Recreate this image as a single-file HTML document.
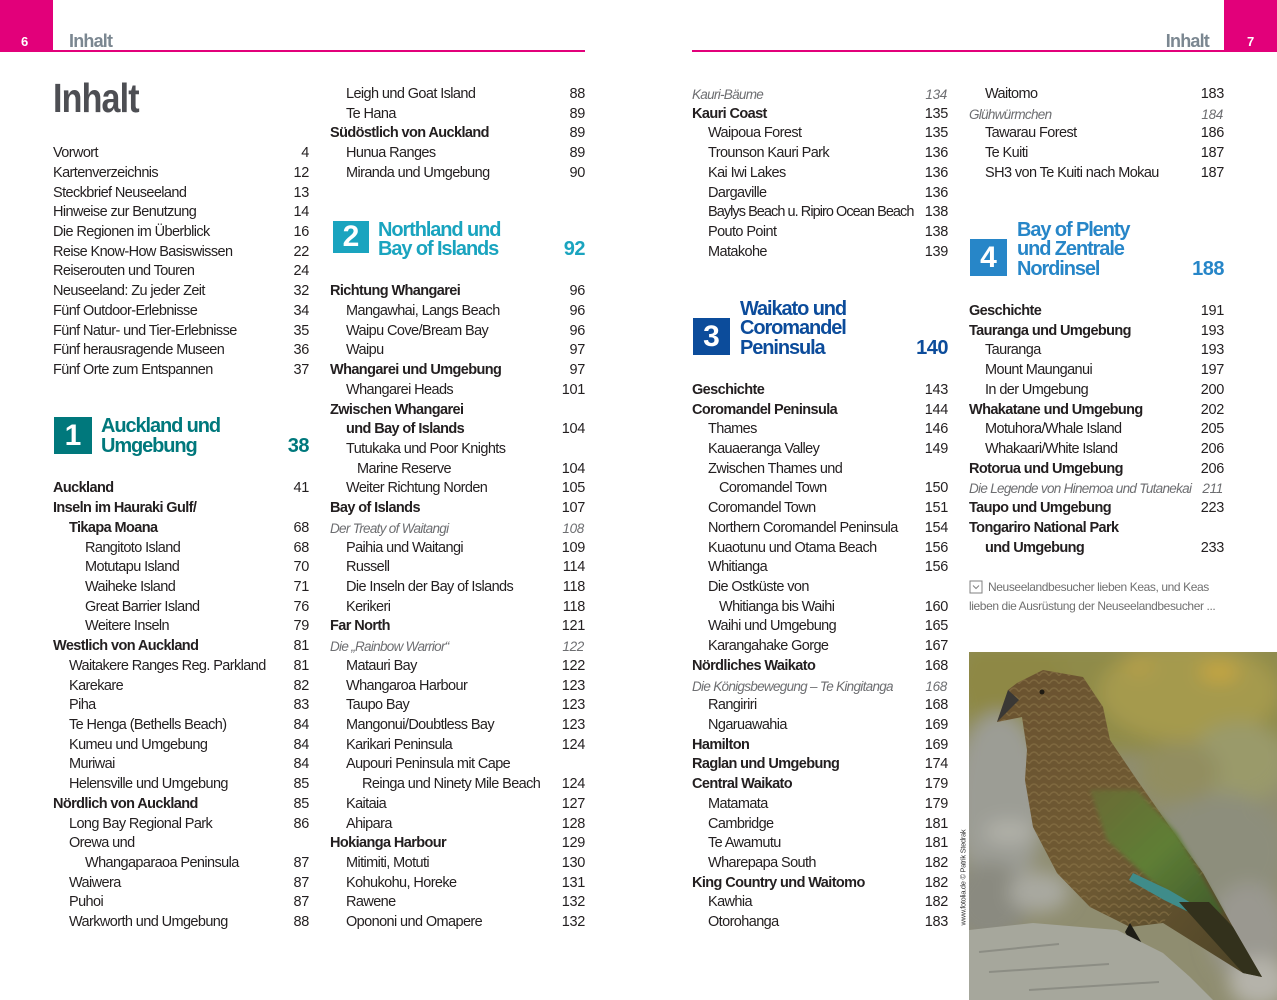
<!DOCTYPE html>
<html><head><meta charset="utf-8">
<style>
html,body{margin:0;padding:0;}
body{width:1277px;height:1000px;overflow:hidden;background:#fff;position:relative;font-family:"Liberation Sans",sans-serif;color:#231f20;}
.abs{position:absolute;}
.pink{position:absolute;background:#e2007a;}
.pn{position:absolute;color:#fff;font-weight:bold;font-size:13px;line-height:13px;}
.hd{position:absolute;color:#7b8791;font-weight:bold;font-size:18px;letter-spacing:-0.8px;line-height:18px;}
.col{position:absolute;top:85px;}
.r{height:19.72px;line-height:19.72px;position:relative;white-space:nowrap;font-size:14.5px;letter-spacing:-0.6px;}
.r .n{position:absolute;right:0;top:0;font-weight:normal;letter-spacing:-0.3px;}
.b{font-weight:bold;}
.it{font-style:italic;color:#6d6e71;font-size:13.5px;letter-spacing:-0.7px;}
.it .n{font-style:italic;right:1px;}
.i16{padding-left:16px;}
.i27{padding-left:27px;}
.i32{padding-left:32px;}
.box{position:absolute;color:#fff;font-weight:bold;font-size:30px;line-height:30px;display:flex;align-items:center;justify-content:center;}
.bt{position:absolute;font-weight:bold;font-size:20px;letter-spacing:-1.1px;line-height:19.72px;white-space:nowrap;}
.bn{position:absolute;font-weight:bold;font-size:20px;letter-spacing:-0.5px;line-height:19.72px;text-align:right;}
.cap{position:absolute;left:969px;color:#707070;font-size:12px;letter-spacing:-0.4px;line-height:19.72px;white-space:nowrap;}
</style></head><body>

<!-- headers -->
<div class="pink" style="left:0;top:0;width:53px;height:52px;"></div>
<div class="pink" style="left:1224px;top:0;width:53px;height:52px;"></div>
<div class="pink" style="left:53px;top:50px;width:532px;height:2px;"></div>
<div class="pink" style="left:692px;top:50px;width:532px;height:2px;"></div>
<div class="pn" style="left:21px;top:35px;">6</div>
<div class="pn" style="left:1247px;top:35px;">7</div>
<div class="hd" style="left:69px;top:32px;">Inhalt</div>
<div class="hd" style="left:1160px;top:32px;width:49px;text-align:right;">Inhalt</div>

<div class="abs" style="left:53px;top:78px;font-size:41px;line-height:41px;font-weight:bold;color:#4d4e53;letter-spacing:-1px;transform:scaleX(0.83);transform-origin:0 0;">Inhalt</div>

<!-- Column 1 -->
<div class="col" style="left:53px;width:256px;">
<div class="r"></div><div class="r"></div><div class="r"></div>
<div class="r">Vorwort<span class="n">4</span></div>
<div class="r">Kartenverzeichnis<span class="n">12</span></div>
<div class="r">Steckbrief Neuseeland<span class="n">13</span></div>
<div class="r">Hinweise zur Benutzung<span class="n">14</span></div>
<div class="r">Die Regionen im Überblick<span class="n">16</span></div>
<div class="r">Reise Know-How Basiswissen<span class="n">22</span></div>
<div class="r">Reiserouten und Touren<span class="n">24</span></div>
<div class="r">Neuseeland: Zu jeder Zeit<span class="n">32</span></div>
<div class="r">Fünf Outdoor-Erlebnisse<span class="n">34</span></div>
<div class="r">Fünf Natur- und Tier-Erlebnisse<span class="n">35</span></div>
<div class="r">Fünf herausragende Museen<span class="n">36</span></div>
<div class="r">Fünf Orte zum Entspannen<span class="n">37</span></div>
<div class="r"></div><div class="r"></div><div class="r"></div><div class="r"></div><div class="r"></div>
<div class="r b">Auckland<span class="n">41</span></div>
<div class="r b">Inseln im Hauraki Gulf/</div>
<div class="r b i16">Tikapa Moana<span class="n">68</span></div>
<div class="r i32">Rangitoto Island<span class="n">68</span></div>
<div class="r i32">Motutapu Island<span class="n">70</span></div>
<div class="r i32">Waiheke Island<span class="n">71</span></div>
<div class="r i32">Great Barrier Island<span class="n">76</span></div>
<div class="r i32">Weitere Inseln<span class="n">79</span></div>
<div class="r b">Westlich von Auckland<span class="n">81</span></div>
<div class="r i16">Waitakere Ranges Reg. Parkland<span class="n">81</span></div>
<div class="r i16">Karekare<span class="n">82</span></div>
<div class="r i16">Piha<span class="n">83</span></div>
<div class="r i16">Te Henga (Bethells Beach)<span class="n">84</span></div>
<div class="r i16">Kumeu und Umgebung<span class="n">84</span></div>
<div class="r i16">Muriwai<span class="n">84</span></div>
<div class="r i16">Helensville und Umgebung<span class="n">85</span></div>
<div class="r b">Nördlich von Auckland<span class="n">85</span></div>
<div class="r i16">Long Bay Regional Park<span class="n">86</span></div>
<div class="r i16">Orewa und</div>
<div class="r i32">Whangaparaoa Peninsula<span class="n">87</span></div>
<div class="r i16">Waiwera<span class="n">87</span></div>
<div class="r i16">Puhoi<span class="n">87</span></div>
<div class="r i16">Warkworth und Umgebung<span class="n">88</span></div>
</div>

<!-- Box 1 -->
<div class="box" style="left:54px;top:417px;width:38px;height:37px;background:#00787c;">1</div>
<div class="bt" style="left:101px;top:417.4px;color:#00787c;">Auckland und<br>Umgebung</div>
<div class="bn" style="left:240px;top:437.1px;width:69px;color:#00787c;">38</div>

<!-- Column 2 -->
<div class="col" style="left:330px;width:255px;">
<div class="r i16">Leigh und Goat Island<span class="n">88</span></div>
<div class="r i16">Te Hana<span class="n">89</span></div>
<div class="r b">Südöstlich von Auckland<span class="n">89</span></div>
<div class="r i16">Hunua Ranges<span class="n">89</span></div>
<div class="r i16">Miranda und Umgebung<span class="n">90</span></div>
<div class="r"></div><div class="r"></div><div class="r"></div><div class="r"></div><div class="r"></div>
<div class="r b">Richtung Whangarei<span class="n">96</span></div>
<div class="r i16">Mangawhai, Langs Beach<span class="n">96</span></div>
<div class="r i16">Waipu Cove/Bream Bay<span class="n">96</span></div>
<div class="r i16">Waipu<span class="n">97</span></div>
<div class="r b">Whangarei und Umgebung<span class="n">97</span></div>
<div class="r i16">Whangarei Heads<span class="n">101</span></div>
<div class="r b">Zwischen Whangarei</div>
<div class="r b i16">und Bay of Islands<span class="n">104</span></div>
<div class="r i16">Tutukaka und Poor Knights</div>
<div class="r i27">Marine Reserve<span class="n">104</span></div>
<div class="r i16">Weiter Richtung Norden<span class="n">105</span></div>
<div class="r b">Bay of Islands<span class="n">107</span></div>
<div class="r it">Der Treaty of Waitangi<span class="n">108</span></div>
<div class="r i16">Paihia und Waitangi<span class="n">109</span></div>
<div class="r i16">Russell<span class="n">114</span></div>
<div class="r i16">Die Inseln der Bay of Islands<span class="n">118</span></div>
<div class="r i16">Kerikeri<span class="n">118</span></div>
<div class="r b">Far North<span class="n">121</span></div>
<div class="r it">Die „Rainbow Warrior“<span class="n">122</span></div>
<div class="r i16">Matauri Bay<span class="n">122</span></div>
<div class="r i16">Whangaroa Harbour<span class="n">123</span></div>
<div class="r i16">Taupo Bay<span class="n">123</span></div>
<div class="r i16">Mangonui/Doubtless Bay<span class="n">123</span></div>
<div class="r i16">Karikari Peninsula<span class="n">124</span></div>
<div class="r i16">Aupouri Peninsula mit Cape</div>
<div class="r i32">Reinga und Ninety Mile Beach<span class="n">124</span></div>
<div class="r i16">Kaitaia<span class="n">127</span></div>
<div class="r i16">Ahipara<span class="n">128</span></div>
<div class="r b">Hokianga Harbour<span class="n">129</span></div>
<div class="r i16">Mitimiti, Motuti<span class="n">130</span></div>
<div class="r i16">Kohukohu, Horeke<span class="n">131</span></div>
<div class="r i16">Rawene<span class="n">132</span></div>
<div class="r i16">Opononi und Omapere<span class="n">132</span></div>
</div>

<!-- Box 2 -->
<div class="box" style="left:333px;top:221px;width:36px;height:32px;background:#1aa4bf;">2</div>
<div class="bt" style="left:378px;top:220.7px;color:#1aa4bf;">Northland und<br>Bay of Islands</div>
<div class="bn" style="left:520px;top:240.4px;width:65px;color:#1aa4bf;">92</div>

<!-- Column 3 -->
<div class="col" style="left:692px;width:256px;">
<div class="r it">Kauri-Bäume<span class="n">134</span></div>
<div class="r b">Kauri Coast<span class="n">135</span></div>
<div class="r i16">Waipoua Forest<span class="n">135</span></div>
<div class="r i16">Trounson Kauri Park<span class="n">136</span></div>
<div class="r i16">Kai Iwi Lakes<span class="n">136</span></div>
<div class="r i16">Dargaville<span class="n">136</span></div>
<div class="r i16" style="letter-spacing:-0.95px;">Baylys Beach u. Ripiro Ocean Beach<span class="n">138</span></div>
<div class="r i16">Pouto Point<span class="n">138</span></div>
<div class="r i16">Matakohe<span class="n">139</span></div>
<div class="r"></div><div class="r"></div><div class="r"></div><div class="r"></div><div class="r"></div><div class="r"></div>
<div class="r b">Geschichte<span class="n">143</span></div>
<div class="r b">Coromandel Peninsula<span class="n">144</span></div>
<div class="r i16">Thames<span class="n">146</span></div>
<div class="r i16">Kauaeranga Valley<span class="n">149</span></div>
<div class="r i16">Zwischen Thames und</div>
<div class="r i27">Coromandel Town<span class="n">150</span></div>
<div class="r i16">Coromandel Town<span class="n">151</span></div>
<div class="r i16">Northern Coromandel Peninsula<span class="n">154</span></div>
<div class="r i16">Kuaotunu und Otama Beach<span class="n">156</span></div>
<div class="r i16">Whitianga<span class="n">156</span></div>
<div class="r i16">Die Ostküste von</div>
<div class="r i27">Whitianga bis Waihi<span class="n">160</span></div>
<div class="r i16">Waihi und Umgebung<span class="n">165</span></div>
<div class="r i16">Karangahake Gorge<span class="n">167</span></div>
<div class="r b">Nördliches Waikato<span class="n">168</span></div>
<div class="r it">Die Königsbewegung – Te Kingitanga<span class="n">168</span></div>
<div class="r i16">Rangiriri<span class="n">168</span></div>
<div class="r i16">Ngaruawahia<span class="n">169</span></div>
<div class="r b">Hamilton<span class="n">169</span></div>
<div class="r b">Raglan und Umgebung<span class="n">174</span></div>
<div class="r b">Central Waikato<span class="n">179</span></div>
<div class="r i16">Matamata<span class="n">179</span></div>
<div class="r i16">Cambridge<span class="n">181</span></div>
<div class="r i16">Te Awamutu<span class="n">181</span></div>
<div class="r i16">Wharepapa South<span class="n">182</span></div>
<div class="r b">King Country und Waitomo<span class="n">182</span></div>
<div class="r i16">Kawhia<span class="n">182</span></div>
<div class="r i16">Otorohanga<span class="n">183</span></div>
</div>

<!-- Box 3 -->
<div class="box" style="left:693px;top:318px;width:37px;height:37px;background:#0c4c9b;">3</div>
<div class="bt" style="left:740px;top:299.6px;color:#0c4c9b;">Waikato und<br>Coromandel<br>Peninsula</div>
<div class="bn" style="left:870px;top:339.0px;width:78px;color:#0c4c9b;">140</div>

<!-- Column 4 -->
<div class="col" style="left:969px;width:255px;">
<div class="r i16">Waitomo<span class="n">183</span></div>
<div class="r it">Glühwürmchen<span class="n">184</span></div>
<div class="r i16">Tawarau Forest<span class="n">186</span></div>
<div class="r i16">Te Kuiti<span class="n">187</span></div>
<div class="r i16">SH3 von Te Kuiti nach Mokau<span class="n">187</span></div>
<div class="r"></div><div class="r"></div><div class="r"></div><div class="r"></div><div class="r"></div><div class="r"></div>
<div class="r b">Geschichte<span class="n">191</span></div>
<div class="r b">Tauranga und Umgebung<span class="n">193</span></div>
<div class="r i16">Tauranga<span class="n">193</span></div>
<div class="r i16">Mount Maunganui<span class="n">197</span></div>
<div class="r i16">In der Umgebung<span class="n">200</span></div>
<div class="r b">Whakatane und Umgebung<span class="n">202</span></div>
<div class="r i16">Motuhora/Whale Island<span class="n">205</span></div>
<div class="r i16">Whakaari/White Island<span class="n">206</span></div>
<div class="r b">Rotorua und Umgebung<span class="n">206</span></div>
<div class="r it">Die Legende von Hinemoa und Tutanekai<span class="n">211</span></div>
<div class="r b">Taupo und Umgebung<span class="n">223</span></div>
<div class="r b">Tongariro National Park</div>
<div class="r b i16">und Umgebung<span class="n">233</span></div>
</div>

<!-- Box 4 -->
<div class="box" style="left:970px;top:239px;width:37px;height:37px;background:#2786c8;">4</div>
<div class="bt" style="left:1017px;top:220.7px;color:#2786c8;">Bay of Plenty<br>und Zentrale<br>Nordinsel</div>
<div class="bn" style="left:1150px;top:260.1px;width:74px;color:#2786c8;">188</div>

<!-- caption -->
<svg class="abs" style="left:969px;top:580px;" width="14" height="14" viewBox="0 0 14 14">
<rect x="1" y="1" width="12" height="12" fill="none" stroke="#808080" stroke-width="1"/>
<polyline points="4,5.5 7,8.5 10,5.5" fill="none" stroke="#808080" stroke-width="1"/>
</svg>
<div class="cap" style="top:577.5px;left:988px;">Neuseelandbesucher lieben Keas, und Keas</div>
<div class="cap" style="top:597.2px;">lieben die Ausrüstung der Neuseelandbesucher ...</div>

<!-- credit -->
<div class="abs" style="left:918px;top:876px;width:90px;height:9px;font-size:7.5px;line-height:9px;color:#333;text-align:center;transform:rotate(-90deg);white-space:nowrap;letter-spacing:-0.3px;">www.fotolia.de © Patrik Stedrak</div>

<!-- photo -->
<svg class="abs" style="left:969px;top:652px;" width="308" height="348" viewBox="0 0 308 348">
<defs>
<filter id="bl" x="-20%" y="-20%" width="140%" height="140%"><feGaussianBlur stdDeviation="9"/></filter>
<filter id="bl2"><feGaussianBlur stdDeviation="2"/></filter>
<linearGradient id="bird" x1="0" y1="0" x2="1" y2="1">
<stop offset="0" stop-color="#6a5230"/><stop offset="0.5" stop-color="#6f5a33"/><stop offset="1" stop-color="#4a4226"/>
</linearGradient>
<linearGradient id="wing" x1="0" y1="0" x2="1" y2="1">
<stop offset="0" stop-color="#6a6a35"/><stop offset="0.5" stop-color="#5f7e36"/><stop offset="1" stop-color="#3f5a2a"/>
</linearGradient>
<pattern id="sc" width="10" height="8" patternUnits="userSpaceOnUse">
<path d="M0,8 Q5,0 10,8" fill="none" stroke="#8a7448" stroke-width="1.4" opacity="0.6"/>
</pattern>
</defs>
<rect width="308" height="348" fill="#8f8d70"/>
<g filter="url(#bl)">
<rect x="-10" y="-10" width="330" height="110" fill="#8f8b4a"/>
<ellipse cx="220" cy="40" rx="90" ry="50" fill="#a59a4e"/>
<ellipse cx="40" cy="30" rx="60" ry="35" fill="#8e8845"/>
<ellipse cx="270" cy="110" rx="50" ry="40" fill="#9a9a6a"/>
<ellipse cx="250" cy="20" rx="20" ry="10" fill="#c6a640"/>
<ellipse cx="170" cy="15" rx="14" ry="8" fill="#b8a048"/>
<ellipse cx="30" cy="150" rx="45" ry="90" fill="#9c9d95"/>
<ellipse cx="20" cy="250" rx="40" ry="40" fill="#8a8a80"/>
<ellipse cx="250" cy="200" rx="70" ry="60" fill="#8d8e7c"/>
<ellipse cx="280" cy="280" rx="40" ry="50" fill="#9a9890"/>
<ellipse cx="210" cy="120" rx="40" ry="30" fill="#928e60"/>
<ellipse cx="70" cy="240" rx="30" ry="20" fill="#a9a9a0"/>
<ellipse cx="40" cy="180" rx="25" ry="12" fill="#b0b0a8"/>
<ellipse cx="290" cy="330" rx="30" ry="25" fill="#b5b3aa"/>
</g>
<!-- bird body -->
<path d="M39,38 L28,70 L53,65 L58,98 L56,128 L64,175 L88,221 L121,255 L161,275 L194,271 L274,321 L293,325 L264,275 L234,221 L201,175 L168,128 L141,88 L134,55 L114,25 L74,18 L48,31 Z" fill="url(#bird)"/>
<path d="M39,38 L28,70 L53,65 L58,98 L56,128 L64,175 L88,221 L121,255 L161,275 L194,271 L234,221 L201,175 L168,128 L141,88 L134,55 L114,25 L74,18 L48,31 Z" fill="url(#sc)"/>
<path d="M121,138 L168,138 L208,181 L254,261 L234,265 L181,228 L138,188 Z" fill="url(#wing)" filter="url(#bl2)"/>
<path d="M164,221 L200,238 L241,262 L236,268 L195,248 L160,228 Z" fill="#3f8c8a"/>
<path d="M210,250 L274,321 L293,325 L264,275 L240,250 Z" fill="#33311c"/>
<path d="M39,38 L28,70 L36,62 L50,48 Z" fill="#3a3835"/>
<circle cx="73" cy="40" r="2.5" fill="#1e1a12"/>
<path d="M161,271 L181,305 L173,308 L156,280 Z" fill="#1e1d16"/>
<!-- rock -->
<path d="M0,278 L64,271 L148,278 L194,301 L221,325 L244,348 L0,348 Z" fill="#a6a79c"/>
<path d="M10,300 L90,292 M20,320 L140,312 M60,338 L190,330" stroke="#8c8d84" stroke-width="2" fill="none"/>
</svg>

</body></html>
